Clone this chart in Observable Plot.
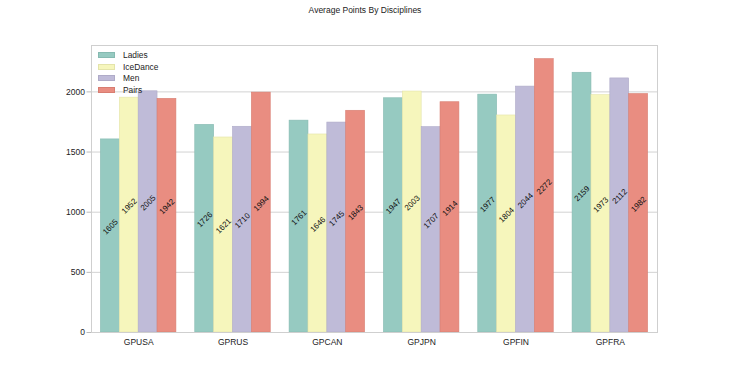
<!DOCTYPE html>
<html>
<head>
<meta charset="utf-8">
<script src="https://cdn.jsdelivr.net/npm/d3@7"></script>
<script src="https://cdn.jsdelivr.net/npm/@observablehq/plot@0.6"></script>
<style>
  body { margin: 0; background: #fff; font-family: "Liberation Sans", Arial, sans-serif; }
  #wrap { position: relative; width: 730px; height: 374px; }
  #title { position: absolute; top: 5px; left: 0; width: 730px; text-align: center; font-size: 8.5px; color: #222; }
  #legend { position: absolute; left: 98px; top: 49px; font-size: 8.4px; color: #222; }
  #legend .row { display: flex; align-items: center; height: 11.8px; }
  #legend .sw { width: 17px; height: 6px; margin-right: 8px; box-sizing: border-box; }
  svg { display: block; }
</style>
</head>
<body>
<div id="wrap">
  <div id="title">Average Points By Disciplines</div>
  <div id="chart"></div>
  <div id="legend"></div>
</div>
<script>
const categories = ["GPUSA", "GPRUS", "GPCAN", "GPJPN", "GPFIN", "GPFRA"];
const series = ["Ladies", "IceDance", "Men", "Pairs"];
const ladies   = [1605, 1726, 1761, 1947, 1977, 2159];
const iceDance = [1952, 1621, 1646, 2003, 1804, 1973];
const men      = [2005, 1710, 1745, 1707, 2044, 2112];
const pairs    = [1942, 1994, 1843, 1914, 2272, 1982];
const yTicks = [0, 500, 1000, 1500, 2000];
const colors = ["#96cac1", "#f6f6bc", "#bfbbd8", "#e98d81"];
const edges  = ["#86bab1", "#e4e4aa", "#afabc8", "#d87d71"];

const values = [ladies, iceDance, men, pairs];
const groupWidth = 0.8;
const barW = groupWidth / series.length;
const data = [];
categories.forEach((c, ci) => {
  series.forEach((s, si) => {
    const x1 = ci - groupWidth / 2 + si * barW;
    data.push({category: c, series: s, value: values[si][ci], x1, x2: x1 + barW, xm: x1 + barW / 2});
  });
});
const ymax = d3.max(data, d => d.value) * 1.05;

const chart = Plot.plot({
  width: 730,
  height: 374,
  marginTop: 45,
  marginBottom: 42,
  marginLeft: 91,
  marginRight: 73,
  style: {fontFamily: "Liberation Sans, Arial, sans-serif", fontSize: "8.5px", color: "#222", background: "#fff"},
  x: {domain: [-0.5, categories.length - 0.5], ticks: d3.range(categories.length), tickFormat: i => categories[i], tickSize: 0, tickPadding: 6, label: null},
  y: {domain: [0, ymax], ticks: yTicks, tickFormat: d3.format("d"), tickSize: 4.5, tickPadding: 2, label: null},
  color: {domain: series, range: colors},
  marks: [
    Plot.ruleY(yTicks.slice(1), {stroke: "#d3d3d3", strokeWidth: 1}),
    Plot.rectY(data, {x1: "x1", x2: "x2", y1: 0, y2: "value", fill: "series", stroke: d => edges[series.indexOf(d.series)], strokeWidth: 0.6}),
    Plot.text(data, {x: "xm", y: d => d.value / 2, text: d => String(d.value), rotate: -45, dy: -9, fill: "#111", fontSize: 8}),
    Plot.frame({stroke: "#cfcfcf"})
  ]
});
document.getElementById("chart").appendChild(chart);
d3.select(chart).selectAll("g[aria-label='y-axis tick'] path, g[aria-label='y-axis'] path").attr("stroke", "#bbb");

const legend = document.getElementById("legend");
series.forEach((s, i) => {
  const row = document.createElement("div");
  row.className = "row";
  const sw = document.createElement("div");
  sw.className = "sw";
  sw.style.background = colors[i];
  sw.style.border = "1px solid " + edges[i];
  const t = document.createElement("span");
  t.textContent = s;
  row.appendChild(sw); row.appendChild(t);
  legend.appendChild(row);
});
</script>
</body>
</html>
